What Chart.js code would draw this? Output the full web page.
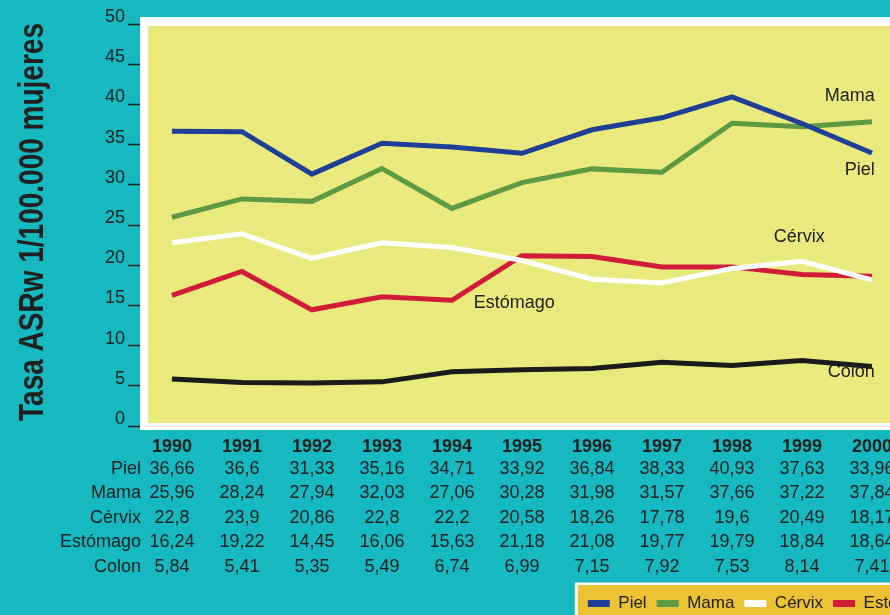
<!DOCTYPE html>
<html><head><meta charset="utf-8">
<script src="https://cdn.jsdelivr.net/npm/chart.js@4.4.1/dist/chart.umd.min.js"></script>
<style>
html,body{margin:0;padding:0;background:#15b9bf;overflow:hidden;width:890px;height:615px}
#wrap{position:relative;width:1035px;height:622px}
canvas{display:block}
</style></head>
<body><div id="wrap"><canvas id="c" width="1035" height="622"></canvas></div>
<script>
// ---- data ----
const years = [1990,1991,1992,1993,1994,1995,1996,1997,1998,1999,2000];
const piel      = [36.66,36.6,31.33,35.16,34.71,33.92,36.84,38.33,40.93,37.63,33.96];
const mama      = [25.96,28.24,27.94,32.03,27.06,30.28,31.98,31.57,37.66,37.22,37.84];
const cervix    = [22.8,23.9,20.86,22.8,22.2,20.58,18.26,17.78,19.6,20.49,18.17];
const estomago  = [16.24,19.22,14.45,16.06,15.63,21.18,21.08,19.77,19.79,18.84,18.64];
const colon     = [5.84,5.41,5.35,5.49,6.74,6.99,7.15,7.92,7.53,8.14,7.41];
const seriesNames  = ['Piel','Mama','Cérvix','Estómago','Colon'];
const seriesValues = [piel, mama, cervix, estomago, colon];
const seriesColors = ['#1f3f97','#5e9a43','#ffffff','#d01c38','#1b1b1b'];
const yTicks = [0,5,10,15,20,25,30,35,40,45,50];
const yTitle = 'Tasa ASRw 1/100.000 mujeres';
// in-plot series labels: [text, year anchor, value anchor, align]
const seriesLabels = [
  ['Mama', 2000.04, 41.0, 'right'],
  ['Piel', 2000.04, 31.8, 'right'],
  ['Cérvix', 1998.96, 23.5, 'center'],
  ['Estómago', 1994.31, 15.3, 'left'],
  ['Colon', 2000.04, 6.7, 'right']
];

const REG = "'Liberation Sans', Arial, sans-serif";
const TXT = '#202020';
const PLOT_BOTTOM = 426;
const FIRST_X = 172, STEP = 70.2;
let xAxisHeight = 160;

const fmt = v => String(v).replace('.', ',');

const bgPlugin = {
  id: 'bg',
  beforeDraw(chart) {
    const {ctx, chartArea: ca, width, height} = chart;
    ctx.save();
    ctx.fillStyle = '#15b9bf';
    ctx.fillRect(0, 0, width, height);
    ctx.fillStyle = '#ffffff';
    ctx.fillRect(ca.left, ca.top - 7, width - ca.left, ca.bottom - ca.top + 11);
    ctx.fillStyle = '#e9e97e';
    ctx.fillRect(ca.left + 8, ca.top + 2, width - ca.left, ca.bottom - ca.top - 5);
    const lg = chart.legend;
    if (lg && lg.legendHitBoxes && lg.legendHitBoxes.length) {
      const hb = lg.legendHitBoxes[0];
      const cy = hb.top + hb.height / 2;
      const L = hb.left - 13, T = cy - 21;
      ctx.fillStyle = '#ffffff';
      ctx.fillRect(L, T, width - L, height - T);
      ctx.fillStyle = '#eac233';
      ctx.fillRect(L + 3, T + 2.5, width - L, height - T);
    }
    ctx.restore();
  }
};

const textPlugin = {
  id: 'texts',
  afterDraw(chart) {
    const {ctx, chartArea: ca} = chart;
    const xs = chart.scales.x, ys = chart.scales.y;
    ctx.save();
    ctx.font = '18px ' + REG;
    ctx.fillStyle = TXT;
    ctx.textBaseline = 'middle';
    // data table under the axis
    seriesNames.forEach((name, r) => {
      const y = ca.bottom + 43 + r * 24.5;
      ctx.textAlign = 'right';
      ctx.fillText(name, ca.left + 1, y);
      ctx.textAlign = 'center';
      seriesValues[r].forEach((v, i) => {
        ctx.fillText(fmt(v), xs.getPixelForValue(years[i]), y);
      });
    });
    // in-plot series labels
    seriesLabels.forEach(([t, xv, yv, al]) => {
      ctx.textAlign = al;
      ctx.fillText(t, xs.getPixelForValue(xv), ys.getPixelForValue(yv));
    });
    // condensed bold y-axis title
    ctx.translate(33, (ca.top + ca.bottom) / 2 - 3);
    ctx.rotate(-Math.PI / 2);
    ctx.scale(0.8, 1);
    ctx.textAlign = 'center';
    ctx.font = 'bold 35px ' + REG;
    ctx.fillText(yTitle, 0, 0);
    ctx.restore();
  }
};

const chart = new Chart(document.getElementById('c'), {
  type: 'line',
  data: {
    datasets: seriesNames.map((n, k) => ({
      label: n,
      data: years.map((yr, i) => ({x: yr, y: seriesValues[k][i]})),
      borderColor: seriesColors[k],
      backgroundColor: seriesColors[k],
      borderWidth: 5,
      pointRadius: 0,
      tension: 0,
      fill: false
    }))
  },
  options: {
    responsive: false,
    animation: false,
    events: [],
    layout: {padding: {top: 24, left: 0, right: 0, bottom: 0}},
    scales: {
      x: {
        type: 'linear',
        min: 1989.5,
        max: 2002.5,
        afterBuildTicks: s => { s.ticks = years.map(v => ({value: v})); },
        afterFit: s => { s.height = xAxisHeight; },
        grid: {display: false, drawTicks: false},
        border: {display: false},
        ticks: {
          autoSkip: false, maxRotation: 0,
          padding: 10,
          color: TXT,
          font: {family: REG, size: 18, weight: 'bold'},
          callback: v => String(v)
        }
      },
      y: {
        min: 0, max: 50,
        afterBuildTicks: s => { s.ticks = yTicks.map(v => ({value: v})); },
        afterFit: s => { s.width = 140; },
        grid: {drawOnChartArea: false, drawTicks: true, tickLength: 12, tickWidth: 1.5, tickColor: TXT},
        border: {display: false},
        ticks: {padding: 3, labelOffset: -7, color: TXT, font: {family: REG, size: 18}},
        title: {display: false, text: yTitle}
      }
    },
    plugins: {
      legend: {
        position: 'bottom', align: 'end',
        labels: {boxWidth: 22, boxHeight: 7, padding: 10, color: TXT, font: {family: REG, size: 17},
          generateLabels: ch => ch.data.datasets.map((d, i) => ({
            text: d.label, fillStyle: d.borderColor, strokeStyle: d.borderColor, lineWidth: 0,
            hidden: false, datasetIndex: i, fontColor: TXT
          }))
        }
      },
      tooltip: {enabled: false}
    }
  },
  plugins: [bgPlugin, textPlugin]
});
// fit plot bottom and the year spacing to the reference geometry
xAxisHeight = chart.height - chart.legend.height - PLOT_BOTTOM;
const ca0 = chart.chartArea;
chart.options.scales.x.min = 1990 - (FIRST_X - ca0.left) / STEP;
chart.options.scales.x.max = 1990 + (ca0.right - FIRST_X) / STEP;
chart.update();
</script>
</body></html>
